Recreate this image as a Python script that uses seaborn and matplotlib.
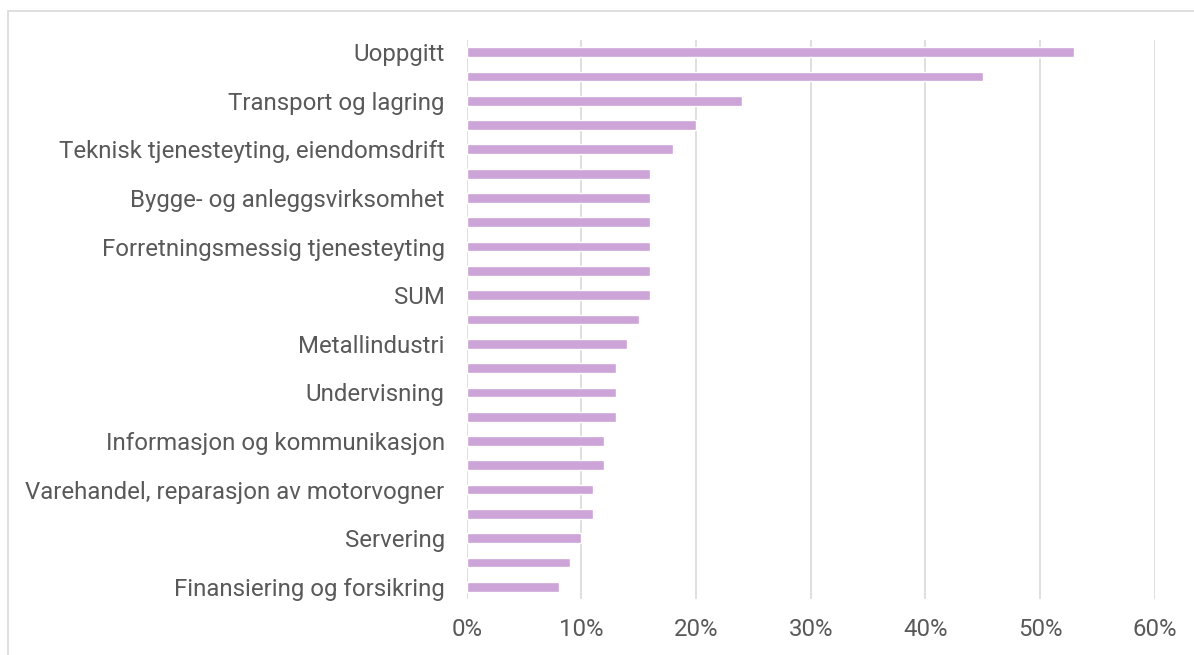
import matplotlib
matplotlib.use("Agg")
import matplotlib.pyplot as plt
import matplotlib.patches as patches
import pandas as pd
import seaborn as sns

# bransjer (bare annenhver er navngitt i figuren)
labels = ["Uoppgitt", "", "Transport og lagring", "",
          "Teknisk tjenesteyting, eiendomsdrift", "",
          "Bygge- og anleggsvirksomhet", "",
          "Forretningsmessig tjenesteyting", "", "SUM", "",
          "Metallindustri", "", "Undervisning", "",
          "Informasjon og kommunikasjon", "",
          "Varehandel, reparasjon av motorvogner", "",
          "Servering", "", "Finansiering og forsikring"]
values = [53, 45, 24, 20, 18, 16, 16, 16, 16, 16, 16, 15,
          14, 13, 13, 13, 12, 12, 11, 11, 10, 9, 8]
xticks = [0, 10, 20, 30, 40, 50, 60]

bar_color = "#cca4d7"
text_color = "#595959"
grid_color = "#d9d9d9"

sns.set_style("white")
plt.rcParams["font.family"] = ["Roboto", "DejaVu Sans"]

df = pd.DataFrame({"pos": range(len(values)), "andel": values})

fig = plt.figure(figsize=(11.94, 6.55), dpi=100)
ax = fig.add_axes([0.391, 0.0855, 0.576, 0.8535])

sns.barplot(data=df, x="andel", y="pos", orient="h", color=bar_color,
            saturation=1, width=0.4, ax=ax)

ax.set_xlim(0, 60)
ax.set_ylim(len(values) - 0.5, -0.5)
ax.set_xticks(xticks)
ax.set_xticklabels([f"{t}%" for t in xticks])
ax.set_yticks(range(len(labels)))
ax.set_yticklabels(labels)
ax.set_xlabel("")
ax.set_ylabel("")

ax.grid(axis="x", color=grid_color, linewidth=1.2)
ax.set_axisbelow(True)
for s in ax.spines.values():
    s.set_visible(False)
ax.tick_params(axis="y", length=0, pad=16, labelsize=17.3, labelcolor=text_color)
ax.tick_params(axis="x", length=0, pad=14, labelsize=17.3, labelcolor=text_color)

# ytre ramme
fig.patches.append(patches.Rectangle((8 / 1194, -0.05), 1.1, 1 - 11 / 655 + 0.05,
                                     transform=fig.transFigure, fill=False,
                                     edgecolor="#d9d9d9", linewidth=1.2))

fig.savefig("out.png", dpi=100)
plt.close(fig)
